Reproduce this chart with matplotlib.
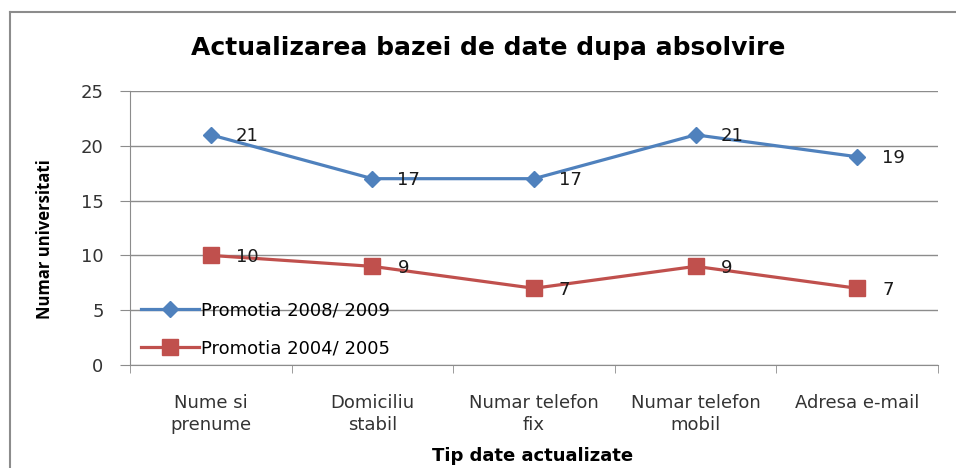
import matplotlib
matplotlib.use("Agg")
import matplotlib.pyplot as plt
from matplotlib.lines import Line2D

categories = ["Nume si\nprenume", "Domiciliu\nstabil", "Numar telefon\nfix", "Numar telefon\nmobil", "Adresa e-mail"]
promo_2008 = [21, 17, 17, 21, 19]
promo_2004 = [10, 9, 7, 9, 7]
series_names = ["Promotia 2008/ 2009", "Promotia 2004/ 2005"]
yticks = [0, 5, 10, 15, 20, 25]

plt.rcParams['font.family'] = ['DejaVu Sans']

W, H = 956, 468
fig = plt.figure(figsize=(W/100, H/100), dpi=100)
fig.patch.set_facecolor("white")

# outer chart border (left and top lines)
fig.add_artist(Line2D([10/W, 10/W], [0, 1 - 12/H], color="#8c8c8c", lw=1.5))
fig.add_artist(Line2D([10/W, 1], [1 - 12/H, 1 - 12/H], color="#8c8c8c", lw=1.5))

left, right, top, bottom = 130, 938, 91, 365
ax = fig.add_axes([left/W, 1 - bottom/H, (right-left)/W, (bottom-top)/H])

x = list(range(len(categories)))
blue = "#4F81BD"
red = "#C0504D"
ax.plot(x, promo_2008, color=blue, lw=2.3, marker="D", ms=8, label=series_names[0], zorder=3)
ax.plot(x, promo_2004, color=red, lw=2.3, marker="s", ms=11, label=series_names[1], zorder=3)

for xi, v in zip(x, promo_2008):
    ax.annotate(str(v), (xi, v), xytext=(18, -1), textcoords="offset points",
                ha="left", va="center", fontsize=13, color="#1a1a1a")
for xi, v in zip(x, promo_2004):
    ax.annotate(str(v), (xi, v), xytext=(18, -1), textcoords="offset points",
                ha="left", va="center", fontsize=13, color="#1a1a1a")

ax.set_xlim(-0.5, len(categories) - 0.5)
ax.set_ylim(0, 25)
ax.set_yticks(yticks)
ax.set_yticklabels([str(t) for t in yticks], fontsize=13, color="#333333")
ax.set_xticks(x)
ax.set_xticklabels(categories, fontsize=13, color="#333333", linespacing=1.25)
ax.set_xticks([i - 0.5 for i in range(len(categories) + 1)], minor=True)
ax.tick_params(axis="x", which="major", length=0, pad=21)
ax.tick_params(axis="x", which="minor", length=6, color="#8c8c8c", direction="out")
ax.tick_params(axis="y", length=7, color="#8c8c8c", pad=12)

ax.grid(axis="y", color="#8c8c8c", lw=1)
ax.set_axisbelow(True)
for s in ["top", "right"]:
    ax.spines[s].set_visible(False)
ax.spines["left"].set_color("#8c8c8c")
ax.spines["bottom"].set_color("#8c8c8c")

ax.legend(loc="lower left", bbox_to_anchor=(0.0, -0.012), frameon=False, fontsize=13,
          handlelength=3.2, handletextpad=0.15, labelspacing=1.1, borderaxespad=0.2)

fig.text(488/W, 1 - 48/H, "Actualizarea bazei de date dupa absolvire", ha="center", va="center",
         fontsize=18, fontweight="bold", color="#000000")
fig.text(45/W, 1 - 239/H, "Numar universitati", ha="center", va="center", rotation=90,
         fontsize=12, fontweight="bold", color="#000000", family=["Open Sans", "DejaVu Sans"])
fig.text(533/W, 1 - 456/H, "Tip date actualizate", ha="center", va="center",
         fontsize=13, fontweight="bold", color="#000000")

fig.savefig("out.png", dpi=100, facecolor="white")
